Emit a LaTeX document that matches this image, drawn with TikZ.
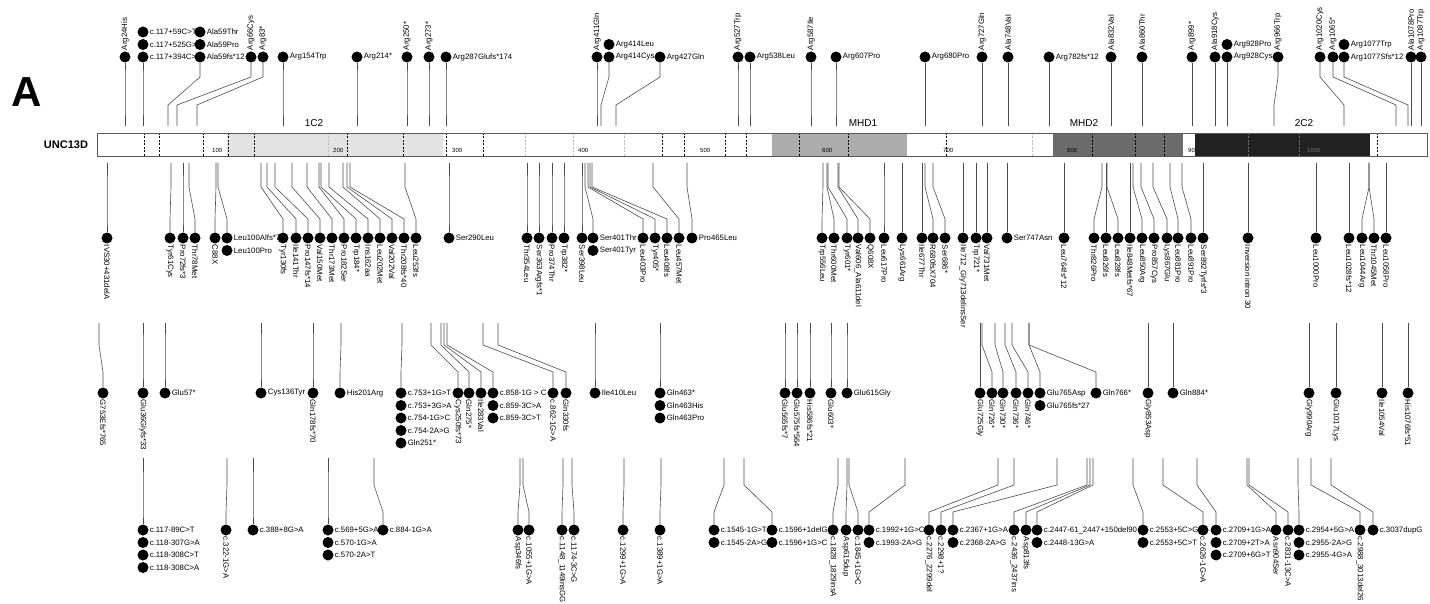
\documentclass[tikz,border=0pt]{standalone}
\usepackage{fontspec}
\setmainfont{Liberation Sans}
\tikzset{
  dot/.style={circle, fill=black, inner sep=0pt, minimum size=11pt},
  mutlab/.style={font=\fontsize{7.8}{8}\selectfont, inner sep=1pt},
  labup/.style={mutlab, rotate=90, anchor=west},
  labdown/.style={mutlab, rotate=-90, anchor=west},
  labright/.style={mutlab, anchor=west},
  stem/.style={draw=black!70, line width=0.6pt},
  exon/.style={dash pattern=on 2pt off 1.5pt, line width=0.6pt},
  ticklab/.style={font=\fontsize{6}{6}\selectfont, inner sep=0pt, anchor=west},
  domlab/.style={font=\fontsize{10}{10}\selectfont, inner sep=0pt},
}
\begin{document}
\begin{tikzpicture}[x=1pt, y=-1pt]
    \useasboundingbox (0,0) rectangle (1430,604);

    \node[font=\bfseries\fontsize{42}{42}\selectfont, inner sep=0pt] (panel) at (27,92) {A};
    \node[font=\bfseries\fontsize{11}{11}\selectfont, inner sep=0pt] (gene) at (66,145) {UNC13D};

    % protein bar and domains
    \fill[white] (97,133) rectangle (1427,156);
    \fill[gray!22] (227,133) rectangle (443,156);
    \fill[gray!65] (772,133) rectangle (907,156);
    \fill[black!58] (1053,133) rectangle (1183,156);
    \foreach \x/\t in {212/100, 333/200, 452/300, 578/400, 700/500, 822/600, 943/700, 1067/800, 1188/900}
        \node[ticklab] at (\x,150) {\t};
    \fill[black!87] (1195,133) rectangle (1370,156);
    \node[ticklab, text=black!55] at (1307,150) {1000};
    \foreach \x in {144, 159, 203, 228, 254, 347, 403, 446, 483, 662, 684, 725, 746, 799, 848, 946, 1092, 1135, 1164, 1377}
        \draw[exon] (\x,133) -- (\x,156);
    \foreach \x in {328, 525, 573, 624, 1032}
        \draw[exon, gray!55] (\x,133) -- (\x,156);
    \foreach \x in {1248, 1299}
        \draw[exon, black!55] (\x,133) -- (\x,156);
    \draw[black!65, line width=0.8pt] (97,133) rectangle (1427,156);

    \node[domlab] (d1) at (314,123) {1C2};
    \node[domlab] (d2) at (863,123) {MHD1};
    \node[domlab] (d3) at (1084,123) {MHD2};
    \node[domlab] (d4) at (1304,123) {2C2};

    % track above the bar
    \foreach \xa/\xc/\txt in {125/125/Arg24His, 177/251/Arg66Cys, 197/263/Arg83*, 407/407/Arg250*, 429/429/Arg273*,
        597/597/Arg411Gln, 738/738/Arg527Trp, 811/811/Arg587Ile, 982/982/Arg727Gln, 1008/1008/Ala748Val,
        1111/1111/Ala832Val, 1142/1142/Ala860Thr, 1192/1192/Arg899*, 1215/1215/Ala918Cys, 1274/1278/Arg966Trp,
        1344/1320/Arg1020Cys, 1396/1333/Arg1065*, 1411/1411/Ala1078Pro, 1421/1421/Arg1087Trp}{
        \node[dot] (t\xc) at (\xc,57) {};
        \node[labup] at (t\xc.north) {\txt};
        \coordinate (ta\xc) at (\xa,126);
        \draw[stem] (ta\xc) -- (\xa,105) -- (\xc,77) -- (t\xc);
    }
    \foreach \xa/\xc/\txt in {143/143/c.117+394C>T, 168/200/Ala59fs*12, 283/283/Arg154Trp, 357/357/Arg214*,
        446/446/Arg287Glufs*174, 601/609/Arg414Cys, 616/660/Arg427Gln, 750/750/Arg538Leu, 836/836/Arg607Pro,
        925/925/Arg680Pro, 1049/1049/Arg782fs*12, 1227/1227/Arg928Cys, 1408/1344/Arg1077Sfs*12}{
        \node[dot] (t\xc) at (\xc,57) {};
        \node[labright] at (t\xc.east) {\txt};
        \coordinate (ta\xc) at (\xa,126);
        \draw[stem] (ta\xc) -- (\xa,105) -- (\xc,77) -- (t\xc);
    }
    \foreach \xc/\k/\txt in {143/1/c.117+525G>T, 143/2/c.117+59C>T, 200/1/Ala59Pro, 200/2/Ala59Thr,
        609/1/Arg414Leu, 1227/1/Arg928Pro, 1344/1/Arg1077Trp}{
        \node[dot] (t\xc-\k) at (\xc,{57-12.5*\k}) {};
        \node[labright] at (t\xc-\k.east) {\txt};
    }

    % first track below the bar
    \foreach \xa/\xc/\txt in {107/107/IVS30+431delA, 171/170/Tyr61Cys, 183/183/Pro72fs*3, 189/195/Thr78Met,
        216/215/C88X, 261/283/Tyr130fs, 267/296/Ile141Thr, 275/308/Pro147fs*14, 292/320/Val150Met,
        307/332/Thr173Met, 319/344/Pro182Ser, 321/356/Trp184*, 329/368/Ins162aa, 343/380/Leu202Met,
        347/392/Val202Val, 350/404/Thr208fs*40, 405/416/Leu253fs, 527/527/Thr354Leu, 539/539/Ser363Argfs*1,
        552/552/Pro374Thr, 564/564/Trp382*, 582/582/Ser398Leu, 588/643/Leu403Pro, 590/655/Tyr405*,
        592/667/Leu408fs, 653/679/Leu457Met, 823/822/Trp556Leu, 827/834/Thr600Met, 828/847/Tyr601*,
        838/858/Val606\_Ala611del, 839/870/Q608X, 884/884/Leu617Pro, 902/902/Lys661Arg, 922/922/Ile677Thr,
        925/933/R680fsX704, 933/945/Ser686*, 963/963/Ile712\_Gly713delinsSer, 976/976/Trp721*,
        987/987/Val731Met, 1064/1064/Leu764fs*12, 1102/1094/Thr826Pro, 1106/1106/Leu826fs, 1107/1118/Leu828fs,
        1130/1130/Ile848Metfs*67, 1133/1142/Leu850Arg, 1141/1154/Pro857Cys, 1153/1167/Lys867Glu,
        1170/1178/Leu881Pro, 1182/1191/Leu891Pro, 1203/1203/Ser892Tyrfs*3, 1248/1248/Inversion intron 30,
        1316/1316/Leu1000Pro, 1349/1349/Leu1028fs*12, 1369/1362/Leu1044Arg, 1369/1374/Thr1045Met,
        1386/1386/Leu1058Pro}{
        \node[dot] (b\xc) at (\xc,238) {};
        \node[labdown] at (b\xc.south) {\txt};
        \coordinate (ba\xc) at (\xa,163);
        \draw[stem] (ba\xc) -- (\xa,187) -- (\xc,219) -- (b\xc);
    }
    \foreach \xa/\xc/\txt in {218/227/Leu100Alfs*7, 449/449/Ser290Leu, 585/593/Ser401Thr, 687/692/Pro465Leu,
        1007/1007/Ser747Asn}{
        \node[dot] (b\xc) at (\xc,238) {};
        \node[labright] at (b\xc.east) {\txt};
        \coordinate (ba\xc) at (\xa,163);
        \draw[stem] (ba\xc) -- (\xa,187) -- (\xc,219) -- (b\xc);
    }
    \foreach \xc/\k/\txt in {227/1/Leu100Pro, 593/1/Ser401Tyr}{
        \node[dot] (b\xc-\k) at (\xc,{238+12.5*\k}) {};
        \node[labright] at (b\xc-\k.east) {\txt};
    }

    % second track below the bar
    \foreach \xa/\xc/\txt in {99/103/G753Efs*765, 143/143/Glu36Glyfs*33, 313/313/Gln178fs*70,
        431/458/Cys250fs*73, 441/469/Gln275*, 444/481/Ile283Val, 483/553/c.862-1G>A, 498/566/Gln330fs,
        785/785/Glu565fs*7, 797/797/Glu575fs*564, 810/810/His586fs*21, 831/831/Glu603*, 980/980/Glu725Gly,
        982/992/Gln726*, 995/1003/Gln730*, 1005/1016/Gln736*, 1012/1028/Gln746*, 1148/1148/Gly853Asp,
        1309/1309/Gly990Arg, 1336/1336/Glu1017Lys, 1382/1382/Ile1054Val, 1408/1408/His1076fs*51}{
        \node[dot] (c\xc) at (\xc,393) {};
        \node[labdown] at (c\xc.south) {\txt};
        \coordinate (ca\xc) at (\xa,323);
        \draw[stem] (ca\xc) -- (\xa,345) -- (\xc,372) -- (c\xc);
    }
    \foreach \xa/\xc/\txt in {165/165/Glu57*, 261/261/Cys136Tyr, 341/340/His201Arg, 402/401/c.753+1G>T,
        447/493/c.858-1G > C, 595/595/Ile410Leu, 660/660/Gln463*, 847/847/Glu615Gly, 1029/1040/Glu765Asp,
        1029/1096/Gln766*, 1173/1173/Gln884*}{
        \node[dot] (c\xc) at (\xc,393) {};
        \node[labright] at (c\xc.east) {\txt};
        \coordinate (ca\xc) at (\xa,323);
        \draw[stem] (ca\xc) -- (\xa,345) -- (\xc,372) -- (c\xc);
    }
    \foreach \xc/\k/\txt in {401/1/c.753+3G>A, 401/2/c.754-1G>C, 401/3/c.754-2A>G, 401/4/Gln251*,
        493/1/c.859-3C>A, 493/2/c.859-3C>T, 660/1/Gln463His, 660/2/Gln463Pro, 1040/1/Glu765fs*27}{
        \node[dot] (c\xc-\k) at (\xc,{393+12.5*\k}) {};
        \node[labright] at (c\xc-\k.east) {\txt};
    }

    % third track below the bar
    \foreach \xa/\xc/\txt in {227/226/c.322-1G>A, 520/518/Asp346fs, 523/529/c.1055+1G>A,
        563/562/c.1148\_1149insGG, 572/574/c.1174-3C>G, 624/623/c.1299+1G>A, 661/660/c.1389+1G>A,
        838/833/c.1828\_1829insA, 847/846/Asp615dup, 849/858/c.1845+1G>C, 998/929/c.2276\_2299del,
        1014/941/c.2298+1?, 1087/1014/c.2436\_2437ins, 1090/1026/Asp813fs, 1163/1203/c.2626-1G>A,
        1247/1276/Asn904Ser, 1249/1288/c.2831-13C>A, 1311/1360/c.2988\_3013del26}{
        \node[dot] (d\xc) at (\xc,530) {};
        \node[labdown] at (d\xc.south) {\txt};
        \coordinate (da\xc) at (\xa,458);
        \draw[stem] (da\xc) -- (\xa,485) -- (\xc,512) -- (d\xc);
    }
    \foreach \xa/\xc/\txt in {143/143/c.117-89C>T, 253/253/c.388+8G>A, 328/328/c.569+5G>A, 374/383/c.884-1G>A,
        724/714/c.1545-1G>T, 744/772/c.1596+1delG, 905/869/c.1992+1G>C, 1057/953/c.2367+1G>A,
        1093/1037/c.2447-61\_2447+150del90, 1133/1143/c.2553+5C>G, 1197/1216/c.2709+1G>A,
        1298/1299/c.2954+5G>A, 1331/1373/c.3037dupG}{
        \node[dot] (d\xc) at (\xc,530) {};
        \node[labright] at (d\xc.east) {\txt};
        \coordinate (da\xc) at (\xa,458);
        \draw[stem] (da\xc) -- (\xa,485) -- (\xc,512) -- (d\xc);
    }
    \foreach \xc/\k/\txt in {143/1/c.118-307G>A, 143/2/c.118-308C>T, 143/3/c.118-308C>A, 328/1/c.570-1G>A,
        328/2/c.570-2A>T, 714/1/c.1545-2A>G, 772/1/c.1596+1G>C, 869/1/c.1993-2A>G, 953/1/c.2368-2A>G,
        1037/1/c.2448-13G>A, 1143/1/c.2553+5C>T, 1216/1/c.2709+2T>A, 1216/2/c.2709+6G>T,
        1299/1/c.2955-2A>G, 1299/2/c.2955-4G>A}{
        \node[dot] (d\xc-\k) at (\xc,{530+12.5*\k}) {};
        \node[labright] at (d\xc-\k.east) {\txt};
    }
\end{tikzpicture}
\end{document}
